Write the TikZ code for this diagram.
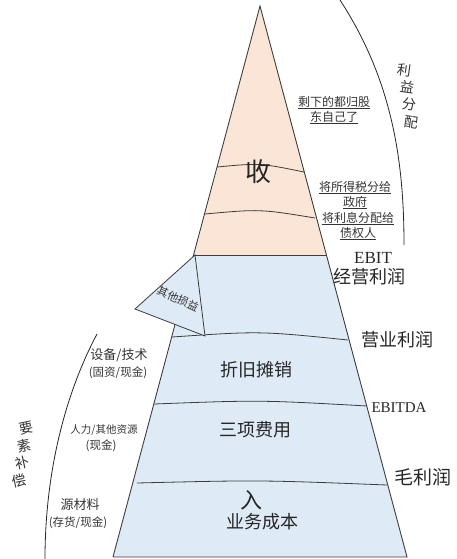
\documentclass[tikz,border=0pt]{standalone}
\usepackage{fontspec}
\setmainfont{Liberation Serif}
\newfontfamily\cjk{Noto Sans CJK SC}
\definecolor{peach}{RGB}{251,229,214}
\definecolor{paleblue}{RGB}{222,234,246}
\definecolor{edge}{RGB}{60,60,60}
\tikzset{
  edgeline/.style={draw=edge, line width=0.9pt},
  divline/.style={draw=edge, line width=0.8pt},
  arcline/.style={draw=black!85, line width=0.8pt},
  bigtxt/.style={font=\cjk\fontsize{18}{20}\selectfont, text=black!85, inner sep=0pt},
  notetxt/.style={font=\cjk\fontsize{12}{15}\selectfont, text=black!80, align=center, inner sep=0pt},
  sidetxt/.style={font=\cjk\fontsize{13}{17}\selectfont, text=black!80, align=center, inner sep=0pt},
  vtxt/.style={font=\cjk\fontsize{14}{17}\selectfont, text=black!80, inner sep=0pt},
}
\begin{document}
\begin{tikzpicture}[x=1pt,y=-1pt]
\useasboundingbox (0,0) rectangle (456,559);
% key points
\coordinate (apex) at (260,6);
\coordinate (bl) at (113,557);
\coordinate (br) at (407,557);
\coordinate (ml) at (194.5,255);
\coordinate (mr) at (326.5,255);
% fills
\fill[peach] (apex) -- (mr) -- (ml) -- cycle;
\fill[paleblue] (ml) -- (mr) -- (br) -- (bl) -- cycle;
% divider lines
\draw[divline] (217,167) .. controls (260,163) .. (304,172);
\draw[divline] (205,214) .. controls (260,209) .. (315,218);
\draw[divline] (ml) -- (mr);
\draw[divline] (172,337) .. controls (260,331) .. (348,340);
\draw[divline] (154,404) .. controls (260,400) .. (367,406);
\draw[divline] (137,483) .. controls (260,480) .. (387,485);
% outline
\draw[edgeline] (bl) -- (apex) -- (br) -- (bl);
% flap
\coordinate (fa) at (195,255);
\coordinate (fb) at (135,309);
\coordinate (fc) at (205,336);
\filldraw[fill=paleblue, draw=edge, line width=0.8pt] (fa) -- (fb) -- (fc) -- cycle;
\node[font=\cjk\fontsize{11}{13}\selectfont, text=black!80, rotate=-24, inner sep=0pt] (flapt) at (178,299) {其他损益};
% arcs
\coordinate (ra1) at (340,0);
\coordinate (ra2) at (404,245);
\draw[arcline] (ra1) .. controls (392,80) and (404,160) .. (ra2);
\coordinate (la1) at (97,334);
\coordinate (la2) at (45,559);
\draw[arcline] (la1) .. controls (62,400) and (45,480) .. (la2);
% pyramid texts
\node[font=\cjk\fontsize{26}{28}\selectfont, text=black!85, inner sep=0pt] (shou) at (258,172) {收};
\node[bigtxt] (zj) at (256,370) {折旧摊销};
\node[bigtxt] (sx) at (255,430) {三项费用};
\node[font=\cjk\fontsize{22}{24}\selectfont, text=black!85, inner sep=0pt] (ru) at (251,500) {入};
\node[bigtxt] (yw) at (262,522) {业务成本};
% right notes
\node[notetxt] (n1) at (334,110) {\underline{剩下的都归股}\\\underline{东自己了}};
\node[notetxt] (n2) at (355,195) {\underline{将所得税分给}\\\underline{政府}};
\node[notetxt] (n3) at (358,226) {\underline{将利息分配给}\\\underline{债权人}};
% right labels
\node[font=\fontsize{17}{19}\selectfont, text=black!85, inner sep=0pt] (ebit) at (373,258) {EBIT};
\node[bigtxt] (jy) at (369,277) {经营利润};
\node[bigtxt] (yy) at (397,340) {营业利润};
\node[font=\fontsize{15}{17}\selectfont, text=black!85, inner sep=0pt] (ebitda) at (399,408) {EBITDA};
\node[font=\cjk\fontsize{19}{21}\selectfont, text=black!85, inner sep=0pt] (mll) at (423,477) {毛利润};
% vertical texts
\node[vtxt, rotate=-8] (v1) at (404,70) {利};
\node[vtxt, rotate=-8] (v2) at (407,87) {益};
\node[vtxt, rotate=-8] (v3) at (409,104) {分};
\node[vtxt, rotate=-8] (v4) at (411,122) {配};
\node[vtxt, rotate=12] (w1) at (26,428) {要};
\node[vtxt, rotate=12] (w2) at (24,446) {素};
\node[vtxt, rotate=12] (w3) at (22,463) {补};
\node[vtxt, rotate=12] (w4) at (19,481) {偿};
% left texts
\node[sidetxt] (s1) at (119,355) {设备/技术};
\node[font=\cjk\fontsize{11.5}{14}\selectfont, text=black!80, inner sep=0pt] (s1b) at (118,373) {(固资/现金)};
\node[font=\cjk\fontsize{10.5}{13}\selectfont, text=black!80, inner sep=0pt] (s2) at (104,430) {人力/其他资源};
\node[font=\cjk\fontsize{11.5}{14}\selectfont, text=black!80, inner sep=0pt] (s2b) at (101,446) {(现金)};
\node[sidetxt] (s3) at (80,505) {源材料};
\node[font=\cjk\fontsize{11.5}{14}\selectfont, text=black!80, inner sep=0pt] (s3b) at (78,523) {(存货/现金)};
\end{tikzpicture}
\end{document}
